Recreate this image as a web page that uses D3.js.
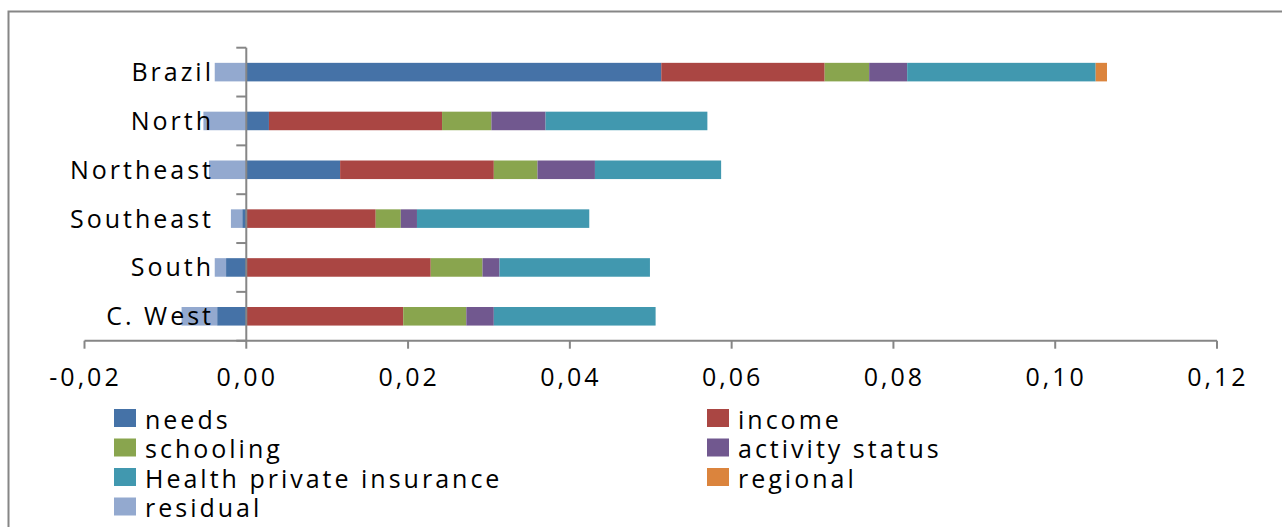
<!DOCTYPE html>
<html>
<head>
<meta charset="utf-8">
<script src="https://cdn.jsdelivr.net/npm/d3@7"></script>
<style>
    body { margin: 0; background: #fff; }
    svg text { font-family: 'Open Sans', sans-serif; fill: #000; }
</style>
</head>
<body>
<div id="chart"></div>
<script>
//
// DATA
//
const regions = ['Brazil', 'North', 'Northeast', 'Southeast', 'South', 'C. West']
const seriesNames = ['needs', 'income', 'schooling', 'activity status', 'Health private insurance', 'regional', 'residual']
const seriesColors = ['#4572A7', '#AA4643', '#89A54E', '#71588F', '#4198AF', '#DB843D', '#93A9CF']
// contributions per region, same order as regions
const needs = [0.0513, 0.0028, 0.0116, -0.0005, -0.0025, -0.0036]
const income = [0.0202, 0.0214, 0.0190, 0.0160, 0.0228, 0.0194]
const schooling = [0.0055, 0.0061, 0.0054, 0.0031, 0.0064, 0.0078]
const activity = [0.0047, 0.0067, 0.0071, 0.0020, 0.0021, 0.0034]
const health = [0.0233, 0.0200, 0.0156, 0.0213, 0.0186, 0.0200]
const regional = [0.0014, 0, 0, 0, 0, 0]
const residual = [-0.0039, -0.0053, -0.0046, -0.0014, -0.0014, -0.0044]
const xTicks = [-0.02, 0, 0.02, 0.04, 0.06, 0.08, 0.10, 0.12]

//
// CHART
//
const width = 1282
const height = 527
const axisColor = '#868686'
const fontSize = 25
const spacing = 3

const svg = d3
    .select('#chart')
    .append('svg')
    .attr('width', width)
    .attr('height', height)

// outer chart frame (runs off the picture on the right and bottom)
svg.append('rect')
    .attr('x', 8.5)
    .attr('y', 11.5)
    .attr('width', 1400)
    .attr('height', 700)
    .attr('fill', 'none')
    .attr('stroke', axisColor)
    .attr('stroke-width', 2)

// build rows for the stack
const columns = [needs, income, schooling, activity, health, regional, residual]
const rows = regions.map((r, i) => {
    const row = { region: r }
    seriesNames.forEach((s, j) => (row[s] = columns[j][i]))
    return row
})
const stacked = d3
    .stack()
    .keys(seriesNames)
    .offset(d3.stackOffsetDiverging)(rows)

const x = d3.scaleLinear().domain([-0.02, 0.12]).range([84.5, 1217])
const y = d3
    .scaleBand()
    .domain(regions)
    .range([47.7, 340.7])
    .paddingInner(0.62)
    .paddingOuter(0.31)

// bars
svg.append('g')
    .selectAll('g')
    .data(stacked)
    .enter()
    .append('g')
    .attr('fill', (d, i) => seriesColors[i])
    .selectAll('rect')
    .data(d => d)
    .enter()
    .append('rect')
    .attr('x', d => x(Math.min(d[0], d[1])))
    .attr('width', d => Math.abs(x(d[1]) - x(d[0])))
    .attr('y', d => y(d.data.region))
    .attr('height', y.bandwidth())

// x axis
const zeroY = 340.7
const xAxis = svg.append('g').attr('transform', `translate(0,${zeroY})`)
xAxis.append('path')
    .attr('d', `M${x(-0.02)},0H${x(0.12)}`)
    .attr('stroke', axisColor)
    .attr('stroke-width', 2)
xAxis.selectAll('line')
    .data(xTicks)
    .enter()
    .append('line')
    .attr('x1', d => x(d))
    .attr('x2', d => x(d))
    .attr('y1', 0)
    .attr('y2', 8)
    .attr('stroke', axisColor)
    .attr('stroke-width', 2)
const fmt = d => d3.format('.2f')(d).replace('.', ',').replace('−', '-')
xAxis.selectAll('text')
    .data(xTicks)
    .enter()
    .append('text')
    .attr('x', d => x(d) + 1)
    .attr('y', 45.5)
    .attr('text-anchor', 'middle')
    .attr('font-size', fontSize)
    .attr('letter-spacing', spacing)
    .text(fmt)

// y axis at zero
const yAxis = svg.append('g').attr('transform', `translate(${x(0)},0)`)
yAxis.append('path')
    .attr('d', `M0,47.7V${zeroY}`)
    .attr('stroke', axisColor)
    .attr('stroke-width', 2)
const bandEdges = d3.range(regions.length + 1).map(i => 47.7 + (i * (340.7 - 47.7)) / regions.length)
yAxis.selectAll('line')
    .data(bandEdges)
    .enter()
    .append('line')
    .attr('x1', -10)
    .attr('x2', 0)
    .attr('y1', d => d)
    .attr('y2', d => d)
    .attr('stroke', axisColor)
    .attr('stroke-width', 2)

// category labels, drawn over the bars
svg.append('g')
    .selectAll('text')
    .data(regions)
    .enter()
    .append('text')
    .attr('x', 211 + spacing)
    .attr('y', d => y(d) + y.bandwidth() / 2 + 9)
    .attr('text-anchor', 'end')
    .attr('font-size', fontSize)
    .attr('letter-spacing', spacing)
    .text(d => d)

// legend: two columns, row by row
const legend = svg.append('g')
const legendCols = [114, 707]
const legendTop = 409
const legendStep = 29.5
seriesNames.forEach((s, i) => {
    const cx = legendCols[i % 2]
    const cy = legendTop + Math.floor(i / 2) * legendStep
    legend.append('rect')
        .attr('x', cx)
        .attr('y', cy)
        .attr('width', 22)
        .attr('height', 18)
        .attr('fill', seriesColors[i])
    legend.append('text')
        .attr('x', cx + 31)
        .attr('y', cy + 19.5)
        .attr('font-size', fontSize)
        .attr('letter-spacing', spacing)
        .text(s)
})
</script>
</body>
</html>
